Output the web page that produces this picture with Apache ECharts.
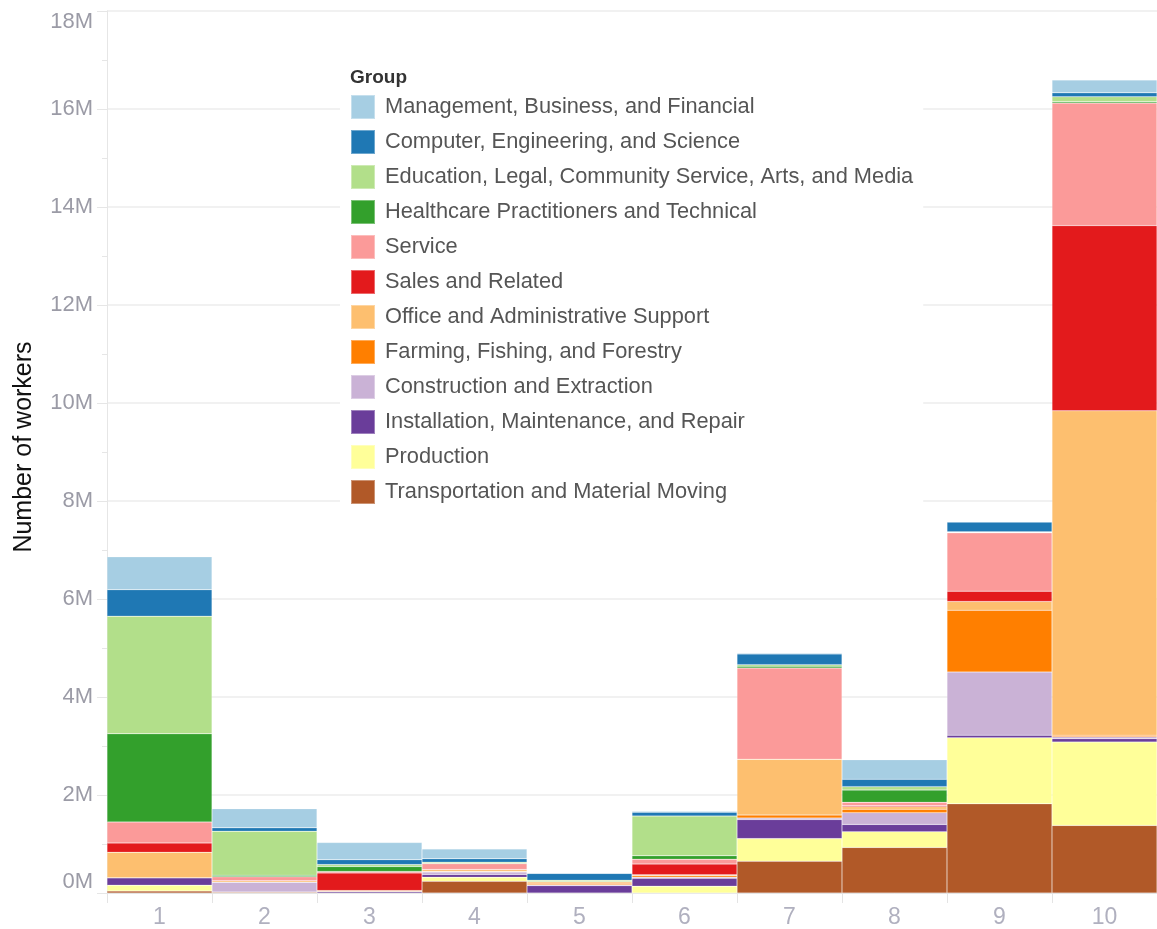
<!DOCTYPE html>
<html lang="en">
<head>
    <meta charset="UTF-8"/>
    <title>Number of workers by group</title>
    <script src="https://cdn.jsdelivr.net/npm/echarts@6/dist/echarts.min.js"></script>
    <style>
        html, body { margin: 0; padding: 0; background: #fff; }
    </style>
</head>
<body>
<div id="main" style="width: 1157px;height:929px;"></div>

<script type="text/javascript">
    // categories on the x axis
    var categories = ['1', '2', '3', '4', '5', '6', '7', '8', '9', '10'];

    // values in millions of workers, one array per group (bottom of the stack first)
    var transportation = [0.04, 0.02, 0, 0.24, 0, 0, 0.65, 0.93, 1.82, 1.38];
    var production = [0.12, 0, 0, 0.08, 0, 0.14, 0.46, 0.32, 1.35, 1.70];
    var installation = [0.15, 0, 0.03, 0.06, 0.15, 0.16, 0.39, 0.15, 0.05, 0.07];
    var construction = [0, 0.20, 0, 0.05, 0.02, 0.02, 0.03, 0.24, 1.29, 0.04];
    var farming = [0, 0, 0, 0.01, 0.03, 0.03, 0.06, 0.07, 1.26, 0.03];
    var office = [0.52, 0.03, 0.02, 0.04, 0.03, 0.02, 1.14, 0.05, 0.18, 6.62];
    var sales = [0.19, 0, 0.36, 0, 0, 0.22, 0, 0.02, 0.21, 3.78];
    var service = [0.43, 0.08, 0.03, 0.12, 0, 0.10, 1.86, 0.07, 1.19, 2.50];
    var healthcare = [1.80, 0.03, 0.10, 0, 0, 0.07, 0.04, 0.25, 0.01, 0.03];
    var education = [2.40, 0.90, 0.04, 0.03, 0.03, 0.81, 0.03, 0.07, 0.01, 0.10];
    var computer = [0.54, 0.07, 0.10, 0.07, 0.14, 0.08, 0.22, 0.15, 0.20, 0.08];
    var management = [0.67, 0.39, 0.35, 0.20, 0.01, 0.02, 0.02, 0.40, 0, 0.26];

    // y axis ticks (millions)
    var yMin = 0, yMax = 18, yStep = 2;

    var groups = [
        {name: 'Transportation and Material Moving', color: '#b15928', data: transportation},
        {name: 'Production', color: '#ffff99', data: production},
        {name: 'Installation, Maintenance, and Repair', color: '#6a3d9a', data: installation},
        {name: 'Construction and Extraction', color: '#cab2d6', data: construction},
        {name: 'Farming, Fishing, and Forestry', color: '#ff7f00', data: farming},
        {name: 'Office and Administrative Support', color: '#fdbf6f', data: office},
        {name: 'Sales and Related', color: '#e31a1c', data: sales},
        {name: 'Service', color: '#fb9a99', data: service},
        {name: 'Healthcare Practitioners and Technical', color: '#33a02c', data: healthcare},
        {name: 'Education, Legal, Community Service, Arts, and Media', color: '#b2df8a', data: education},
        {name: 'Computer, Engineering, and Science', color: '#1f78b4', data: computer},
        {name: 'Management, Business, and Financial', color: '#a6cee3', data: management}
    ];

    var myChart = echarts.init(document.getElementById('main'));

    var series = groups.map(function (g) {
        return {
            name: g.name,
            type: 'bar',
            stack: 'total',
            barCategoryGap: '0%',
            itemStyle: {color: g.color, borderColor: 'rgba(255,255,255,0.35)', borderWidth: 0.5},
            data: g.data
        };
    });

    var option = {
        animation: false,
        title: {
            text: 'Group',
            left: 345,
            top: 63,
            textStyle: {fontFamily: 'Liberation Sans', fontSize: 19, fontWeight: 'bold', color: '#333'}
        },
        legend: {
            orient: 'vertical',
            left: 340,
            top: 58,
            padding: [36, 10, 10, 10],
            backgroundColor: '#fff',
            icon: 'rect',
            itemWidth: 24,
            itemHeight: 24,
            itemGap: 9,
            selectedMode: false,
            textStyle: {fontFamily: 'Liberation Sans', fontSize: 21.8, lineHeight: 24, color: '#555', padding: [0, 0, 0, 5]},
            // legend lists the top of the stack first
            data: groups.map(function (g) { return g.name; }).reverse()
        },
        grid: {
            left: 107,
            top: 11,
            width: 1052,
            bottom: 36,
            containLabel: false
        },
        xAxis: {
            type: 'category',
            data: categories,
            axisLine: {lineStyle: {color: '#e4e4e4'}},
            axisTick: {show: true, length: 10, lineStyle: {color: '#e4e4e4'}},
            axisLabel: {fontFamily: 'Liberation Sans', fontSize: 23, color: '#b0b0bf', margin: 13}
        },
        yAxis: {
            type: 'value',
            min: yMin,
            max: yMax,
            interval: yStep,
            name: 'Number of workers',
            nameLocation: 'middle',
            nameGap: 70,
            nameTextStyle: {fontFamily: 'Liberation Sans', fontSize: 25, color: '#111', padding: [0, 0, 0, 10]},
            axisLine: {show: true, lineStyle: {color: '#e6e6e6'}},
            axisTick: {show: true, length: 10, lineStyle: {color: '#e6e6e6'}},
            minorTick: {show: true, splitNumber: 2, length: 5, lineStyle: {color: '#e6e6e6'}},
            splitLine: {lineStyle: {color: '#ededed', width: 1.5}},
            axisLabel: {
                fontFamily: 'Liberation Sans',
                fontSize: 22,
                color: '#9b9ba6',
                margin: 14,
                verticalAlignMinLabel: 'bottom',
                verticalAlignMaxLabel: 'top',
                formatter: function (v) { return v + 'M'; }
            }
        },
        series: series
    };

    myChart.setOption(option);
</script>

</body>
</html>
